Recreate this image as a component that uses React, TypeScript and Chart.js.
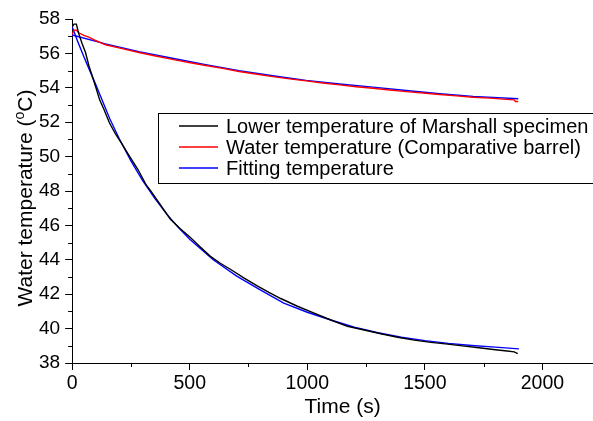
import React, { useEffect, useRef } from 'react';
import { Chart, registerables } from 'chart.js';

Chart.register(...registerables);

// ---- Data ----
const lowerTime = [0, 8, 18, 28, 43, 57, 71, 85, 99, 117, 135, 159, 185, 209, 245, 280, 315, 332, 375, 418, 460, 503, 545, 588, 630, 673, 730, 787, 837, 887, 958, 1029, 1100, 1171, 1242, 1313, 1384, 1455, 1526, 1597, 1668, 1739, 1800, 1850, 1880, 1895];
const lowerTemp = [57.55, 57.7, 57.7, 57.15, 56.55, 56.05, 55.3, 54.7, 54.1, 53.3, 52.75, 51.95, 51.3, 50.8, 50.0, 49.25, 48.35, 48.05, 47.2, 46.35, 45.8, 45.3, 44.75, 44.2, 43.8, 43.45, 42.95, 42.48, 42.1, 41.75, 41.3, 40.9, 40.5, 40.13, 39.92, 39.7, 39.5, 39.33, 39.2, 39.1, 38.98, 38.87, 38.77, 38.7, 38.65, 38.55];

const waterTime = [0, 8, 18, 28, 50, 71, 100, 142, 213, 284, 355, 426, 497, 568, 640, 710, 780, 853, 924, 995, 1066, 1137, 1208, 1279, 1350, 1421, 1492, 1563, 1634, 1705, 1776, 1847, 1880, 1885, 1897];
const waterTemp = [57.1, 57.35, 57.35, 57.2, 57.05, 56.95, 56.75, 56.5, 56.28, 56.05, 55.85, 55.65, 55.47, 55.3, 55.13, 54.95, 54.8, 54.65, 54.52, 54.4, 54.28, 54.17, 54.06, 53.97, 53.87, 53.78, 53.7, 53.61, 53.53, 53.45, 53.4, 53.33, 53.3, 53.2, 53.2];

const fitLowerTime = [0, 25, 50, 75, 100, 130, 160, 200, 250, 300, 350, 400, 450, 500, 600, 700, 800, 900, 1000, 1100, 1200, 1300, 1400, 1500, 1600, 1700, 1800, 1900];
const fitLowerTemp = [57.55, 56.65, 55.8, 55.0, 54.2, 53.2, 52.2, 51.05, 49.75, 48.6, 47.6, 46.7, 45.9, 45.2, 44.0, 43.05, 42.25, 41.48, 40.95, 40.5, 40.08, 39.76, 39.5, 39.3, 39.14, 39.02, 38.92, 38.82];

const fitWaterTime = [0, 142, 284, 426, 568, 710, 853, 995, 1137, 1279, 1421, 1563, 1705, 1897];
const fitWaterTemp = [57.07, 56.55, 56.1, 55.72, 55.35, 55.0, 54.7, 54.43, 54.22, 54.04, 53.84, 53.65, 53.5, 53.36];

const xTicks = [0, 500, 1000, 1500, 2000];
const xMinorTicks = [250, 750, 1250, 1750];
const yTicks = [38, 40, 42, 44, 46, 48, 50, 52, 54, 56, 58];
const yMinorTicks = [39, 41, 43, 45, 47, 49, 51, 53, 55, 57];

const legendLabels = [
  'Lower temperature of Marshall specimen',
  'Water temperature (Comparative barrel)',
  'Fitting temperature',
];
const xTitle = 'Time (s)';
const yTitleParts = ['Water temperature (', 'o', 'C)'];

const FONT = "'Liberation Sans', Arial, Helvetica, sans-serif";

const toXY = (xs: number[], ys: number[]) => xs.map((x, i) => ({ x, y: ys[i] }));

const minorTickPlugin = {
  id: 'minorTicks',
  afterDraw(chart: any) {
    const { ctx, chartArea, scales } = chart;
    ctx.save();
    ctx.strokeStyle = '#000';
    ctx.lineWidth = 1;
    ctx.beginPath();
    xMinorTicks.forEach((v) => {
      const px = Math.round(scales.x.getPixelForValue(v)) + 0.5;
      ctx.moveTo(px, chartArea.bottom);
      ctx.lineTo(px, chartArea.bottom + 4);
    });
    yMinorTicks.forEach((v) => {
      const py = Math.round(scales.y.getPixelForValue(v)) + 0.5;
      ctx.moveTo(chartArea.left - 4, py);
      ctx.lineTo(chartArea.left, py);
    });
    ctx.stroke();
    ctx.restore();
  },
};

const axisTitlePlugin = {
  id: 'axisTitles',
  afterDraw(chart: any) {
    const { ctx, chartArea } = chart;
    ctx.save();
    ctx.fillStyle = '#000';
    // x title
    ctx.font = `21px ${FONT}`;
    ctx.textAlign = 'center';
    ctx.textBaseline = 'alphabetic';
    ctx.fillText(xTitle, (chartArea.left + chartArea.right) / 2 + 10, 413);
    // y title (rotated, with superscript)
    const big = `21px ${FONT}`;
    const small = `14px ${FONT}`;
    ctx.font = big;
    const w1 = ctx.measureText(yTitleParts[0]).width;
    const w3 = ctx.measureText(yTitleParts[2]).width;
    ctx.font = small;
    const w2 = ctx.measureText(yTitleParts[1]).width;
    const total = w1 + w2 + w3;
    ctx.translate(32, 198);
    ctx.rotate(-Math.PI / 2);
    ctx.textAlign = 'left';
    let x = -total / 2;
    ctx.font = big;
    ctx.fillText(yTitleParts[0], x, 0);
    x += w1;
    ctx.font = small;
    ctx.fillText(yTitleParts[1], x, -8);
    x += w2;
    ctx.font = big;
    ctx.fillText(yTitleParts[2], x, 0);
    ctx.restore();
  },
};

const boxLegendPlugin = {
  id: 'boxLegend',
  afterDraw(chart: any) {
    const { ctx } = chart;
    const ds = chart.data.datasets;
    const entries = [0, 1, 2].map((i) => ({ text: legendLabels[i], color: ds[i].borderColor }));
    const left = 158.5;
    const top = 113.5;
    ctx.save();
    ctx.strokeStyle = '#000';
    ctx.lineWidth = 1;
    ctx.strokeRect(left, top, 460, 70);
    ctx.font = `20px ${FONT}`;
    ctx.textBaseline = 'middle';
    ctx.fillStyle = '#000';
    entries.forEach((e, i) => {
      const y = 126 + i * 21;
      ctx.strokeStyle = e.color;
      ctx.lineWidth = 1.3;
      ctx.beginPath();
      ctx.moveTo(179, y);
      ctx.lineTo(218, y);
      ctx.stroke();
      ctx.fillText(e.text, 226, y + 1);
    });
    ctx.restore();
  },
};

export default function App() {
  const canvasRef = useRef<HTMLCanvasElement | null>(null);

  useEffect(() => {
    document.body.style.margin = '0';
    Chart.defaults.font.family = FONT;
    const canvas = canvasRef.current;
    if (!canvas) return;
    const line = (label: string, data: any, color: string) => ({
      label,
      data,
      borderColor: color,
      backgroundColor: color,
      borderWidth: 1.4,
      pointRadius: 0,
      tension: 0,
      fill: false,
    });
    const chart = new Chart(canvas, {
      type: 'line',
      data: {
        datasets: [
          line(legendLabels[0], toXY(lowerTime, lowerTemp), '#000000'),
          line(legendLabels[1], toXY(waterTime, waterTemp), '#ff0000'),
          line(legendLabels[2], toXY(fitLowerTime, fitLowerTemp), '#0000ff'),
          line(legendLabels[2], toXY(fitWaterTime, fitWaterTemp), '#0000ff'),
        ],
      },
      options: {
        animation: false,
        responsive: false,
        devicePixelRatio: 1,
        layout: { padding: { left: 34, right: 0, top: 19, bottom: 23.6 } },
        plugins: {
          legend: { display: false },
          tooltip: { enabled: false },
        },
        scales: {
          x: {
            type: 'linear',
            min: 0,
            max: 2215,
            afterBuildTicks: (s: any) => {
              s.ticks = xTicks.map((v) => ({ value: v }));
            },
            ticks: {
              font: { size: 19.5 },
              color: '#000',
              padding: 2,
              maxRotation: 0,
              autoSkip: false,
              callback: (v: any) => String(v),
            },
            grid: { drawOnChartArea: false, drawTicks: true, tickLength: 7, color: '#000', lineWidth: 1 },
            border: { display: true, color: '#000', width: 1 },
            title: { display: false },
          },
          y: {
            type: 'linear',
            min: 38,
            max: 58,
            afterBuildTicks: (s: any) => {
              s.ticks = yTicks.map((v) => ({ value: v }));
            },
            ticks: {
              font: { size: 19 },
              color: '#000',
              padding: 5,
              autoSkip: false,
              callback: (v: any) => String(v),
            },
            grid: { drawOnChartArea: false, drawTicks: true, tickLength: 7, color: '#000', lineWidth: 1 },
            border: { display: true, color: '#000', width: 1 },
            title: { display: false },
          },
        },
      },
      plugins: [minorTickPlugin, axisTitlePlugin, boxLegendPlugin],
    });
    return () => chart.destroy();
  }, []);

  return (
    <div style={{ width: 593, height: 421, background: '#fff' }}>
      <canvas ref={canvasRef} width={593} height={421} style={{ display: 'block' }} />
    </div>
  );
}
